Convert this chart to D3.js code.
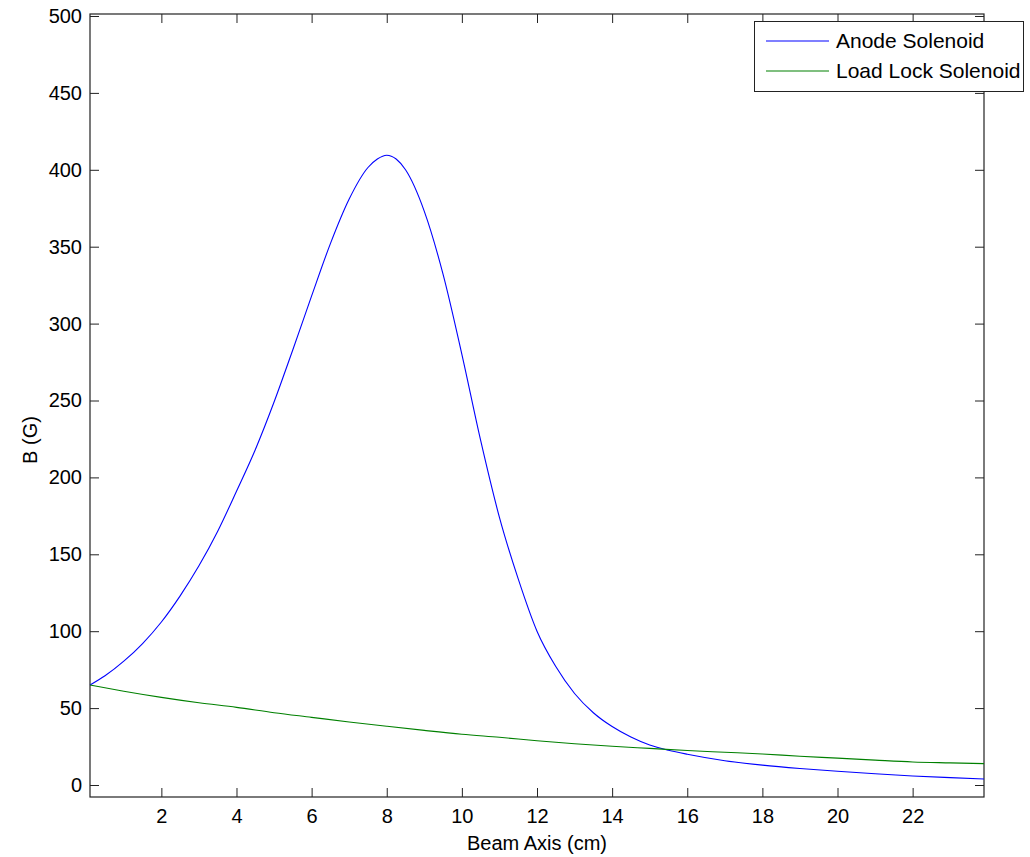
<!DOCTYPE html>
<html>
<head>
<meta charset="utf-8">
<script src="https://cdn.jsdelivr.net/npm/d3@7"></script>
<style>
  body { margin: 0; background: #fff; }
  text { font-family: "Liberation Sans", Arial, sans-serif; fill: #000; }
</style>
</head>
<body>
<div id="chart"></div>
<script>
// Anode solenoid field along the beam axis
const anodeX = [0.1, 0.5, 1, 1.5, 2, 2.5, 3, 3.5, 4, 4.5, 5, 5.5, 6, 6.5, 7, 7.5, 7.75, 8, 8.25, 8.5, 9, 9.5, 10, 10.5, 11, 11.5, 12, 12.5, 13, 13.5, 14, 14.5, 15, 15.5, 16, 17, 18, 19, 20, 21, 22, 23, 23.9];
const anodeB = [65, 71, 80.5, 92, 106, 123, 142.5, 165, 191, 218, 249, 283, 318, 352, 381, 401.5, 407, 409.5, 407, 400, 373, 332, 280, 224, 174, 134, 100, 77, 59.5, 47, 38, 31.2, 26, 22.6, 20, 15.8, 12.9, 10.7, 8.9, 7.3, 5.9, 4.8, 3.9];

// Load lock solenoid field
const loadLockX = [0.1, 1, 2, 3, 4, 5, 6, 7, 8, 9, 10, 11, 12, 13, 14, 15, 16, 17, 18, 19, 20, 21, 22, 23, 23.9];
const loadLockB = [65, 61, 57, 53.5, 50.5, 47, 44, 41, 38.2, 35.5, 33, 31, 28.8, 26.8, 25.2, 23.8, 22.4, 21.3, 20.2, 18.7, 17.5, 16.2, 15, 14.4, 13.9];

const xTicks = [2, 4, 6, 8, 10, 12, 14, 16, 18, 20, 22];
const yTicks = [0, 50, 100, 150, 200, 250, 300, 350, 400, 450, 500];

const seriesNames = ["Anode Solenoid", "Load Lock Solenoid"];
const seriesColors = ["#0000ff", "#008000"];

const width = 1030, height = 857;
const marginTop = 14, marginRight = 46, marginBottom = 60, marginLeft = 90;
const axisColor = "#222";
const tickLen = 9;

const svg = d3.select("#chart")
    .append("svg")
    .attr("width", width)
    .attr("height", height);

const x = d3.scaleLinear()
    .domain([0.1, 23.9])
    .range([marginLeft, width - marginRight]);

const y = d3.scaleLinear()
    .domain([-7.8, 501.3])
    .range([height - marginBottom, marginTop]);

const plotW = width - marginLeft - marginRight;
const plotH = height - marginTop - marginBottom;

// axes with inward ticks on all four sides
svg.append("g")
    .attr("transform", `translate(0,${height - marginBottom})`)
    .call(d3.axisBottom(x).tickValues(xTicks).tickSizeInner(-tickLen).tickSizeOuter(0).tickPadding(12))
    .call(g => g.selectAll(".tick text").style("font-size", "20px"));

svg.append("g")
    .attr("transform", `translate(0,${marginTop})`)
    .call(d3.axisTop(x).tickValues(xTicks).tickSizeInner(-tickLen).tickSizeOuter(0).tickFormat(""));

svg.append("g")
    .attr("transform", `translate(${marginLeft},0)`)
    .call(d3.axisLeft(y).tickValues(yTicks).tickSizeInner(-tickLen).tickSizeOuter(0).tickPadding(8))
    .call(g => g.selectAll(".tick text").style("font-size", "20px"));

svg.append("g")
    .attr("transform", `translate(${width - marginRight},0)`)
    .call(d3.axisRight(y).tickValues(yTicks).tickSizeInner(-tickLen).tickSizeOuter(0).tickFormat(""));

svg.selectAll(".domain").remove();
svg.selectAll(".tick line").attr("stroke", axisColor);

// box
svg.append("rect")
    .attr("x", marginLeft)
    .attr("y", marginTop)
    .attr("width", plotW)
    .attr("height", plotH)
    .attr("fill", "none")
    .attr("stroke", axisColor)
    .attr("stroke-width", 1.2);

// lines
const line = d3.line()
    .x(d => x(d[0]))
    .y(d => y(d[1]))
    .curve(d3.curveMonotoneX);

const series = [
    d3.zip(anodeX, anodeB),
    d3.zip(loadLockX, loadLockB)
];

series.forEach((s, i) => {
    svg.append("path")
        .datum(s)
        .attr("fill", "none")
        .attr("stroke", seriesColors[i])
        .attr("stroke-width", 1.1)
        .attr("d", line);
});

// axis labels
svg.append("text")
    .attr("x", marginLeft + plotW / 2)
    .attr("y", 850)
    .attr("text-anchor", "middle")
    .style("font-size", "20px")
    .text("Beam Axis (cm)");

svg.append("text")
    .attr("transform", "translate(37,440) rotate(-90)")
    .attr("text-anchor", "middle")
    .style("font-size", "20px")
    .text("B (G)");

// legend
const legend = svg.append("g");
legend.append("rect")
    .attr("x", 754.5)
    .attr("y", 21.5)
    .attr("width", 269)
    .attr("height", 70)
    .attr("fill", "#fff")
    .attr("stroke", axisColor);

seriesNames.forEach((name, i) => {
    const ly = 41 + i * 30;
    legend.append("line")
        .attr("x1", 766).attr("x2", 829)
        .attr("y1", ly).attr("y2", ly)
        .attr("stroke", seriesColors[i])
        .attr("stroke-width", 1.1);
    legend.append("text")
        .attr("x", 836)
        .attr("y", ly + 7)
        .style("font-size", "21px")
        .text(name);
});
</script>
</body>
</html>
